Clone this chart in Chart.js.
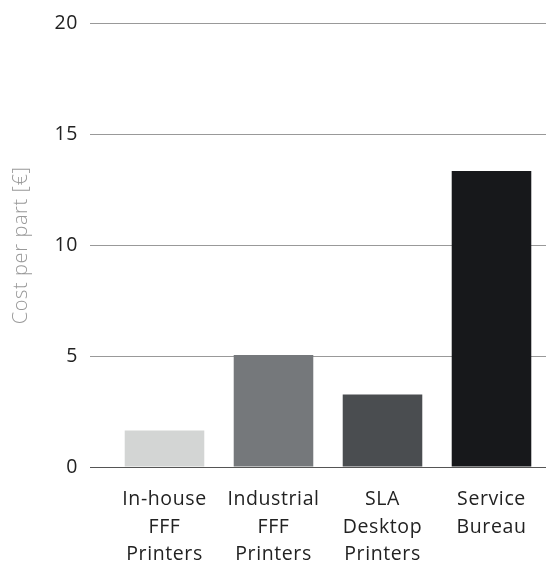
<!DOCTYPE html>
<html>
<head>
<meta charset="utf-8">
<script src="https://cdn.jsdelivr.net/npm/chart.js@4.4.1/dist/chart.umd.min.js"></script>
<style>
html,body{margin:0;padding:0;background:#fff;}
#wrap{width:546px;height:564px;position:relative;}
</style>
</head>
<body>
<div id="wrap"><canvas id="c"></canvas></div>
<script>
const categories = [["In-house","FFF","Printers"],["Industrial","FFF","Printers"],["SLA","Desktop","Printers"],["Service","Bureau"]];
const costPerPart = [1.65, 5.05, 3.27, 13.35];
const barColors = ["#d3d5d4","#75787b","#4a4d50","#17181b"];
const yTicks = [0, 5, 10, 15, 20];
const yTitle = "Cost per part [€]";

const FONT = "'Open Sans'";
const LS = '0.6px';
const spacing = {
  id: 'spacing',
  beforeUpdate(chart) { chart.ctx.letterSpacing = LS; },
  beforeLayout(chart) { chart.ctx.letterSpacing = LS; },
  beforeDraw(chart) { chart.ctx.letterSpacing = LS; }
};
new Chart(document.getElementById('c'), {
  type: 'bar',
  plugins: [spacing],
  data: {
    labels: categories,
    datasets: [{
      data: costPerPart,
      backgroundColor: barColors,
      borderWidth: 0,
      categoryPercentage: 1.0,
      barPercentage: 0.73
    }]
  },
  options: {
    responsive: true,
    maintainAspectRatio: false,
    animation: false,
    layout: { padding: { top: 16, right: 0, left: 0, bottom: 0 } },
    plugins: { legend: { display: false }, tooltip: { enabled: false } },
    scales: {
      x: {
        grid: { display: false, drawTicks: false },
        border: { display: false },
        ticks: {
          color: '#222',
          padding: 19,
          maxRotation: 0,
          font: { family: FONT, size: 19.5, weight: 400, lineHeight: 1.41 }
        },
        afterFit: (s) => { s.height = 97; }
      },
      y: {
        min: 0, max: 20,
        afterBuildTicks: (s) => { s.ticks = yTicks.map(v => ({ value: v })); },
        grid: {
          color: (ctx) => ctx.tick && ctx.tick.value === 0 ? '#555' : '#999',
          tickColor: (ctx) => ctx.tick && ctx.tick.value === 0 ? '#555' : '#999',
          tickLength: 20,
          lineWidth: 1
        },
        border: { display: false },
        ticks: {
          color: '#222',
          padding: 12,
          font: { family: FONT, size: 19.5, weight: 400 }
        },
        title: {
          display: true,
          text: yTitle,
          color: '#999',
          padding: { top: 9, bottom: 0 },
          font: { family: FONT, size: 20, weight: 300 }
        },
        afterFit: (s) => { s.width = 110; }
      }
    }
  }
});
</script>
</body>
</html>
